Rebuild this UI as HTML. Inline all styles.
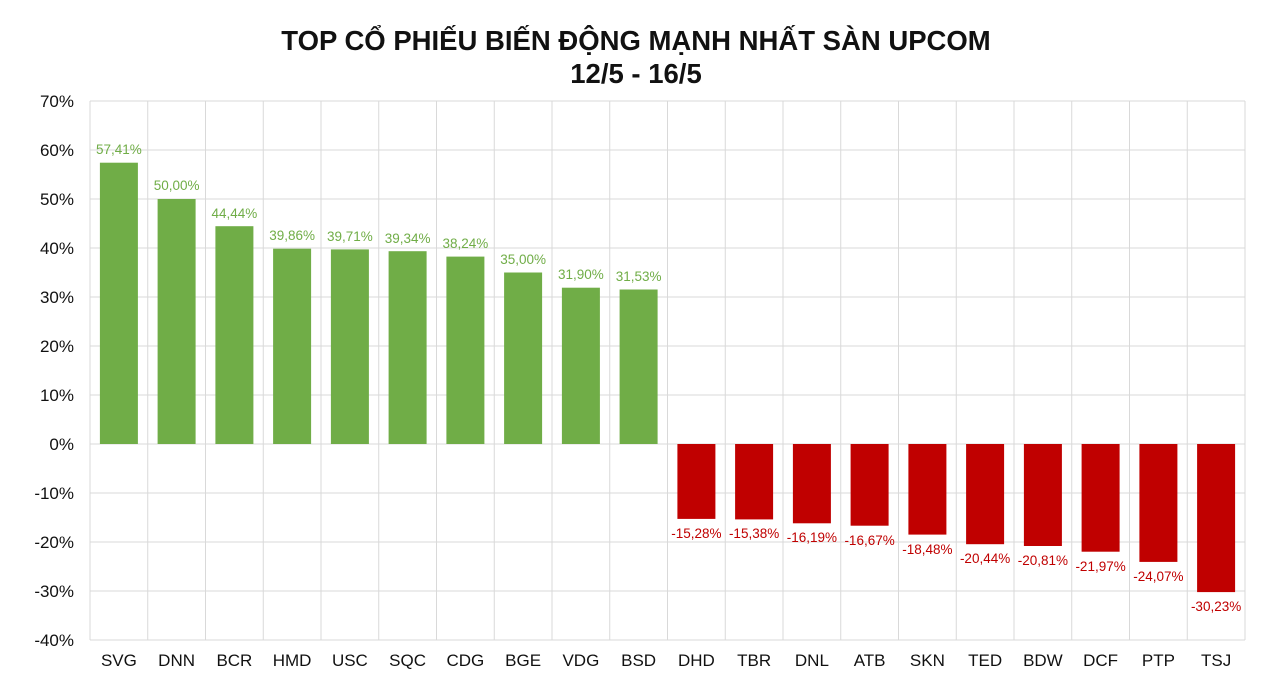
<!DOCTYPE html><html><head><meta charset="utf-8"><style>body{margin:0;background:#fff}svg{display:block}</style></head><body>
<svg width="1279" height="685" xmlns="http://www.w3.org/2000/svg" font-family="Liberation Sans, Arial, sans-serif">
<rect width="1279" height="685" fill="#fff"/>
<text x="636" y="50" text-anchor="middle" font-size="27.5" font-weight="bold" fill="#111">TOP CỔ PHIẾU BIẾN ĐỘNG MẠNH NHẤT SÀN UPCOM</text>
<text x="636" y="83" text-anchor="middle" font-size="27.5" font-weight="bold" fill="#111">12/5 - 16/5</text>
<g stroke="#d9d9d9" stroke-width="1">
<line x1="90" y1="101" x2="1245" y2="101"/><line x1="90" y1="150" x2="1245" y2="150"/><line x1="90" y1="199" x2="1245" y2="199"/><line x1="90" y1="248" x2="1245" y2="248"/><line x1="90" y1="297" x2="1245" y2="297"/><line x1="90" y1="346" x2="1245" y2="346"/><line x1="90" y1="395" x2="1245" y2="395"/><line x1="90" y1="444" x2="1245" y2="444"/><line x1="90" y1="493" x2="1245" y2="493"/><line x1="90" y1="542" x2="1245" y2="542"/><line x1="90" y1="591" x2="1245" y2="591"/><line x1="90" y1="640" x2="1245" y2="640"/>
<line x1="90" y1="101" x2="90" y2="640"/><line x1="147.75" y1="101" x2="147.75" y2="640"/><line x1="205.5" y1="101" x2="205.5" y2="640"/><line x1="263.25" y1="101" x2="263.25" y2="640"/><line x1="321" y1="101" x2="321" y2="640"/><line x1="378.75" y1="101" x2="378.75" y2="640"/><line x1="436.5" y1="101" x2="436.5" y2="640"/><line x1="494.25" y1="101" x2="494.25" y2="640"/><line x1="552" y1="101" x2="552" y2="640"/><line x1="609.75" y1="101" x2="609.75" y2="640"/><line x1="667.5" y1="101" x2="667.5" y2="640"/><line x1="725.25" y1="101" x2="725.25" y2="640"/><line x1="783" y1="101" x2="783" y2="640"/><line x1="840.75" y1="101" x2="840.75" y2="640"/><line x1="898.5" y1="101" x2="898.5" y2="640"/><line x1="956.25" y1="101" x2="956.25" y2="640"/><line x1="1014" y1="101" x2="1014" y2="640"/><line x1="1071.75" y1="101" x2="1071.75" y2="640"/><line x1="1129.5" y1="101" x2="1129.5" y2="640"/><line x1="1187.25" y1="101" x2="1187.25" y2="640"/><line x1="1245" y1="101" x2="1245" y2="640"/>
</g>
<g font-size="17" fill="#111" text-anchor="end">
<text x="74" y="107">70%</text><text x="74" y="156">60%</text><text x="74" y="205">50%</text><text x="74" y="254">40%</text><text x="74" y="303">30%</text><text x="74" y="352">20%</text><text x="74" y="401">10%</text><text x="74" y="450">0%</text><text x="74" y="499">-10%</text><text x="74" y="548">-20%</text><text x="74" y="597">-30%</text><text x="74" y="646">-40%</text>
</g>
<g fill="#70ad47">
<rect x="99.9" y="162.7" width="38" height="281.3"/><rect x="157.6" y="199" width="38" height="245"/><rect x="215.4" y="226.2" width="38" height="217.8"/><rect x="273.1" y="248.7" width="38" height="195.3"/><rect x="330.9" y="249.4" width="38" height="194.6"/><rect x="388.6" y="251.2" width="38" height="192.8"/><rect x="446.4" y="256.6" width="38" height="187.4"/><rect x="504.1" y="272.5" width="38" height="171.5"/><rect x="561.9" y="287.7" width="38" height="156.3"/><rect x="619.6" y="289.5" width="38" height="154.5"/>
</g>
<g fill="#c00000">
<rect x="677.4" y="444" width="38" height="74.9"/><rect x="735.1" y="444" width="38" height="75.4"/><rect x="792.9" y="444" width="38" height="79.3"/><rect x="850.6" y="444" width="38" height="81.7"/><rect x="908.4" y="444" width="38" height="90.6"/><rect x="966.1" y="444" width="38" height="100.2"/><rect x="1023.9" y="444" width="38" height="102"/><rect x="1081.6" y="444" width="38" height="107.7"/><rect x="1139.4" y="444" width="38" height="117.9"/><rect x="1197.1" y="444" width="38" height="148.1"/>
</g>
<g font-size="13.5" fill="#70ad47" text-anchor="middle">
<text x="118.9" y="154">57,41%</text><text x="176.6" y="190">50,00%</text><text x="234.4" y="218">44,44%</text><text x="292.1" y="240">39,86%</text><text x="349.9" y="241">39,71%</text><text x="407.6" y="243">39,34%</text><text x="465.4" y="248">38,24%</text><text x="523.1" y="264">35,00%</text><text x="580.9" y="279">31,90%</text><text x="638.6" y="281">31,53%</text>
</g>
<g font-size="13.5" fill="#c00000" text-anchor="middle">
<text x="696.4" y="538">-15,28%</text><text x="754.1" y="538">-15,38%</text><text x="811.9" y="542">-16,19%</text><text x="869.6" y="545">-16,67%</text><text x="927.4" y="554">-18,48%</text><text x="985.1" y="563">-20,44%</text><text x="1042.9" y="565">-20,81%</text><text x="1100.6" y="571">-21,97%</text><text x="1158.4" y="581">-24,07%</text><text x="1216.1" y="611">-30,23%</text>
</g>
<g font-size="17" fill="#111" text-anchor="middle">
<text x="118.9" y="666">SVG</text><text x="176.6" y="666">DNN</text><text x="234.4" y="666">BCR</text><text x="292.1" y="666">HMD</text><text x="349.9" y="666">USC</text><text x="407.6" y="666">SQC</text><text x="465.4" y="666">CDG</text><text x="523.1" y="666">BGE</text><text x="580.9" y="666">VDG</text><text x="638.6" y="666">BSD</text><text x="696.4" y="666">DHD</text><text x="754.1" y="666">TBR</text><text x="811.9" y="666">DNL</text><text x="869.6" y="666">ATB</text><text x="927.4" y="666">SKN</text><text x="985.1" y="666">TED</text><text x="1042.9" y="666">BDW</text><text x="1100.6" y="666">DCF</text><text x="1158.4" y="666">PTP</text><text x="1216.1" y="666">TSJ</text>
</g>
</svg>
</body></html>
